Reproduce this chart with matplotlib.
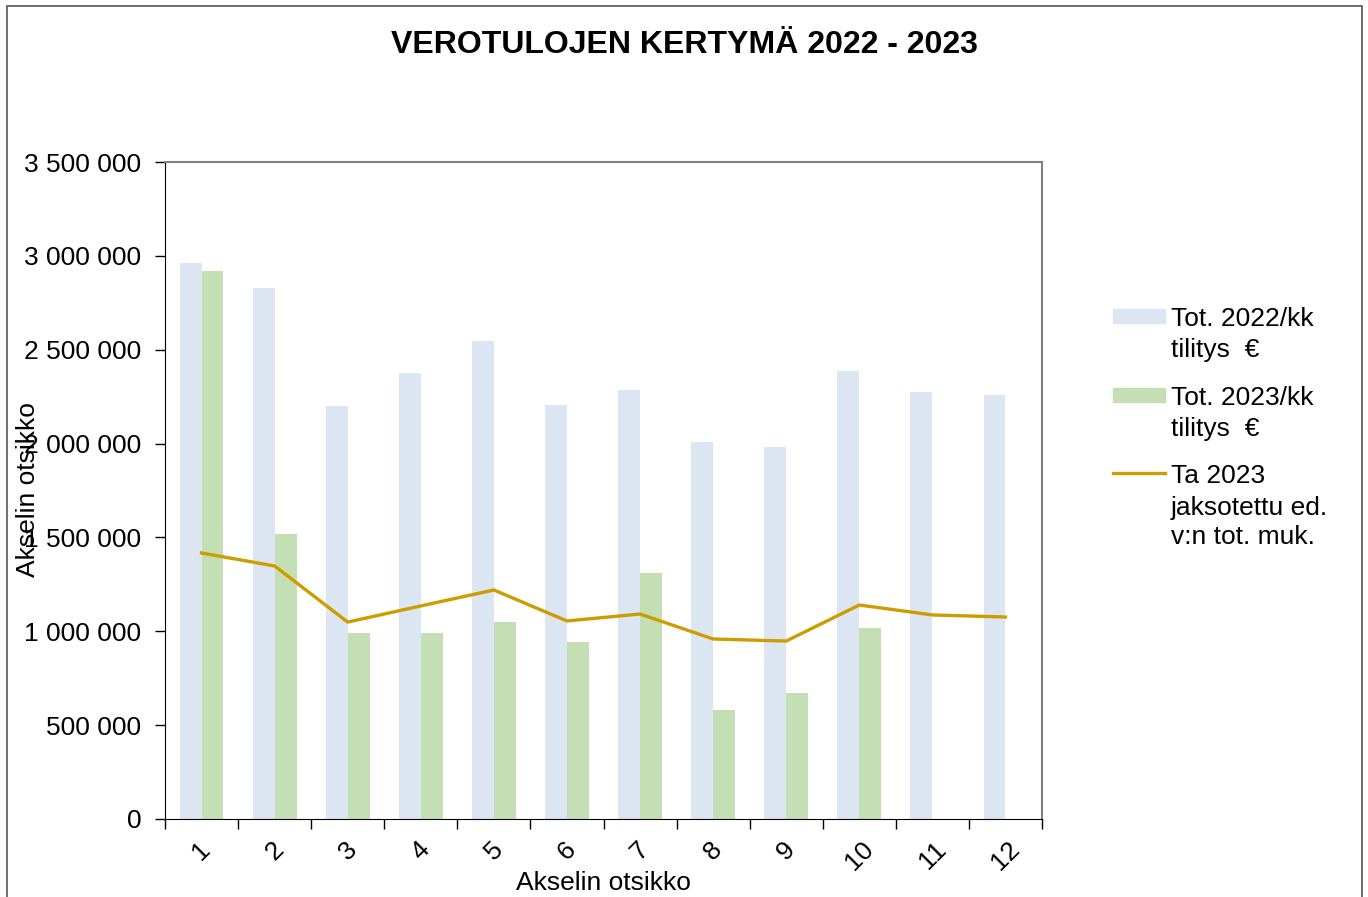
import numpy as np
import matplotlib.pyplot as plt
from matplotlib.patches import Rectangle
from matplotlib.lines import Line2D
from matplotlib.ticker import FuncFormatter

plt.rcParams['font.family'] = ['Liberation Sans', 'DejaVu Sans']

months = [str(m) for m in range(1, 13)]
tot_2022 = [2962000, 2829000, 2200000, 2376000, 2546000, 2205000,
            2285000, 2008000, 1982000, 2387000, 2275000, 2259000]
tot_2023 = [2919000, 1518000, 991000, 991000, 1049000, 943000,
            1311000, 581000, 671000, 1017000]
ta_2023 = [1417000, 1348000, 1049000, 1135000, 1220000, 1055000,
           1092000, 959000, 948000, 1140000, 1087000, 1076000]

labels = [['Tot. 2022/kk', 'tilitys  €'],
          ['Tot. 2023/kk', 'tilitys  €'],
          ['Ta 2023', 'jaksotettu ed.', 'v:n tot. muk.']]

c22 = '#dce6f2'
c23 = '#c4dfb3'
cta = '#cc9c00'


def spaced(x, pos):
    return f'{int(x):,}'.replace(',', ' ')


W, H = 1368, 897
fig = plt.figure(figsize=(W / 100, H / 100), dpi=100)
ax = fig.add_axes([165 / W, 1 - 819 / H, 877 / W, 657 / H])

x = np.arange(1, 13)
w = 0.30
ax.bar(x - w / 2, tot_2022, w, color=c22, zorder=2)
ax.bar(x[:len(tot_2023)] + w / 2, tot_2023, w, color=c23, zorder=2)
ax.plot(x, ta_2023, color=cta, lw=2.4, zorder=3)

ax.set_xlim(0.5, 12.5)
ax.set_ylim(0, 3500000)
ax.set_yticks(np.arange(0, 3500001, 500000))
ax.yaxis.set_major_formatter(FuncFormatter(spaced))
ax.set_xticks(x)
ax.set_xticklabels(months, rotation=45, ha='center', va='top')
ax.set_xticks(np.arange(0.5, 12.6, 1), minor=True)
ax.tick_params(axis='x', which='major', length=0, pad=13, labelsize=19)
ax.tick_params(axis='x', which='minor', length=7, width=1, direction='out')
ax.tick_params(axis='y', length=7, width=1, direction='out', labelsize=19, pad=10)

for side in ['top', 'right']:
    ax.spines[side].set_color('#808080')
    ax.spines[side].set_linewidth(1.5)
ax.spines['left'].set_color('#000000')
ax.spines['bottom'].set_color('#000000')

ax.set_xlabel('Akselin otsikko', fontsize=19)
ax.xaxis.set_label_coords(0.5, -(871 - 819) / 657)
fig.text(28 / W, 1 - 490 / H, 'Akselin otsikko', rotation=90, fontsize=19,
         ha='center', va='center')

fig.text(0.5, 1 - 45 / H, 'VEROTULOJEN KERTYMÄ 2022 - 2023', fontsize=23,
         fontweight='bold', ha='center', va='center')

# legend, drawn by hand so the handle sits on the first text line
rows = [[316, 347], [395, 426], [473, 505, 535]]
for i, (lines, ys) in enumerate(zip(labels, rows)):
    y0 = 1 - ys[0] / H
    if i < 2:
        fig.patches.append(Rectangle((1113 / W, y0 - 7 / H), 52 / W, 14 / H,
                                     transform=fig.transFigure,
                                     color=[c22, c23][i]))
    else:
        fig.lines.append(Line2D([1113 / W, 1165 / W], [y0, y0],
                                transform=fig.transFigure, color=cta, lw=2.4))
    for t, yy in zip(lines, ys):
        fig.text(1171 / W, 1 - yy / H, t, fontsize=19, ha='left', va='center_baseline')

fig.patches.append(Rectangle((7 / W, -0.1), (1362 - 7) / W, 1.1 - 6 / H,
                             transform=fig.transFigure,
                             fill=False, edgecolor='#555555', lw=1.2))

fig.savefig('out.png', dpi=100)
